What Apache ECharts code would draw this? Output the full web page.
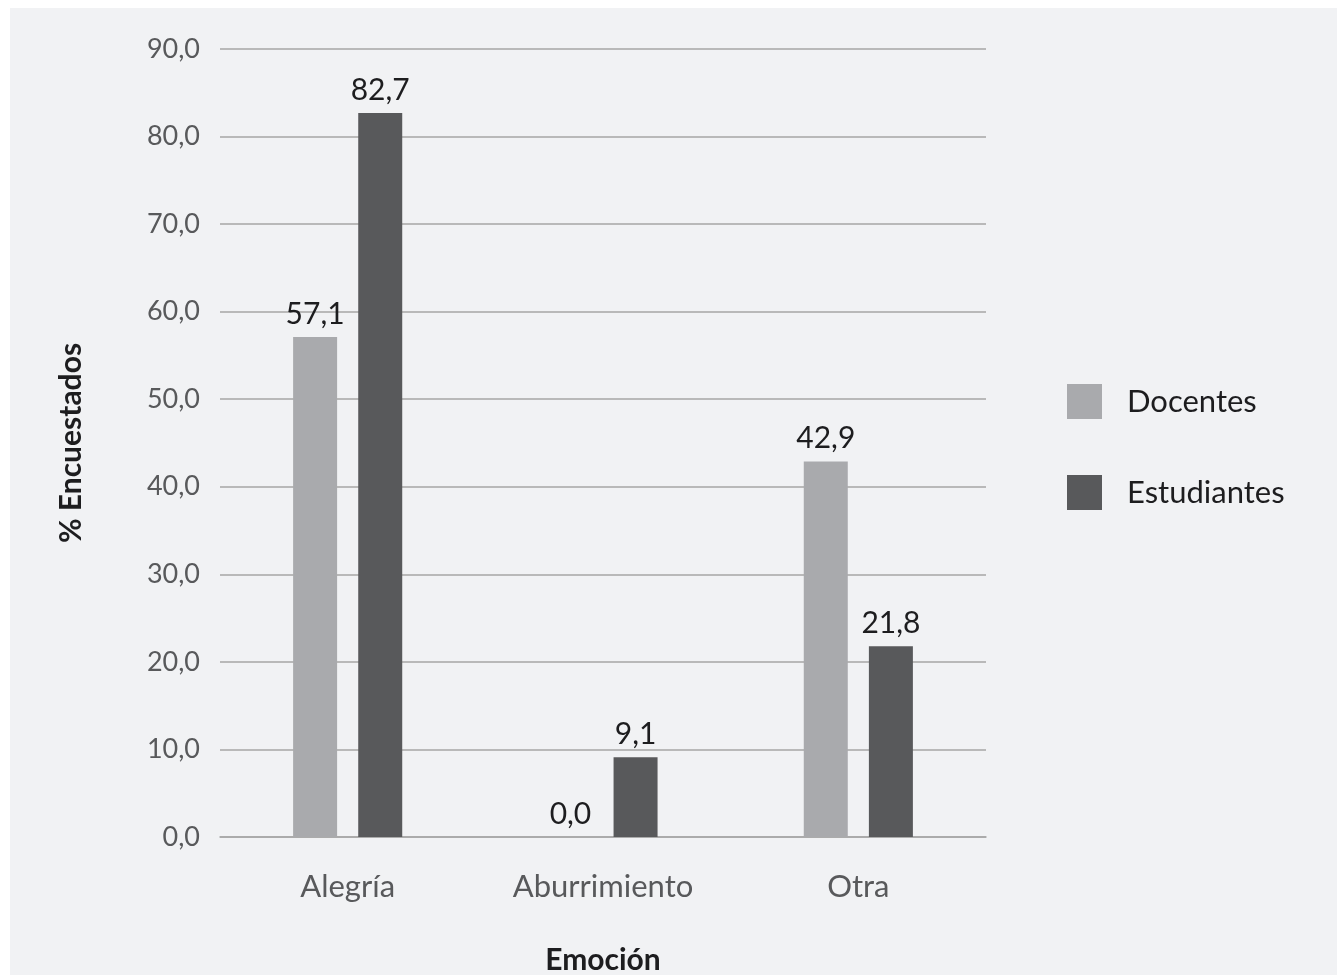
<!DOCTYPE html>
<html>
<head>
<meta charset="utf-8">
<script src="https://cdn.jsdelivr.net/npm/echarts@6/dist/echarts.min.js"></script>
<style>
  html, body { margin: 0; padding: 0; background: #ffffff; }
  #chart {
    position: absolute;
    left: 10px;
    top: 8px;
    width: 1327px;
    height: 967px;
    background: #f1f2f4;
  }
</style>
</head>
<body>
<div id="chart"></div>
<script>
const categories = ['Alegría', 'Aburrimiento', 'Otra']
const docentes = [57.1, 0.0, 42.9]
const estudiantes = [82.7, 9.1, 21.8]

const fmt = v => Number(v).toFixed(1).replace('.', ',')

const chart = echarts.init(document.getElementById('chart'))

const labelStyle = {
  show: true,
  position: 'top',
  distance: 8,
  fontFamily: 'Lato',
  fontSize: 30,
  color: '#1d1d1f',
  formatter: p => fmt(p.value)
}

chart.setOption({
  backgroundColor: '#f1f2f4',
  textStyle: { fontFamily: 'Lato' },
  grid: {
    left: 210,
    right: 351,
    top: 41,
    bottom: 138,
    outerBoundsMode: 'none',
    containLabel: false
  },
  legend: {
    orient: 'vertical',
    left: 1052,
    top: 371,
    itemWidth: 35,
    itemHeight: 35,
    itemGap: 56,
    icon: 'rect',
    textStyle: {
      fontFamily: 'Lato',
      fontSize: 31,
      color: '#1d1d1f',
      padding: [0, 0, 0, 20]
    },
    data: ['Docentes', 'Estudiantes']
  },
  xAxis: {
    type: 'category',
    data: categories,
    name: 'Emoción',
    nameLocation: 'middle',
    nameGap: 108,
    nameTextStyle: {
      fontFamily: 'Lato',
      fontSize: 30,
      fontWeight: 'bold',
      color: '#1d1d1f'
    },
    axisLine: { lineStyle: { color: '#a6a6a6', width: 1.5 } },
    axisTick: { show: false },
    axisLabel: {
      margin: 34,
      fontFamily: 'Lato',
      fontSize: 31,
      color: '#58595b'
    }
  },
  yAxis: {
    type: 'value',
    min: 0,
    max: 90,
    interval: 10,
    name: '% Encuestados',
    nameLocation: 'middle',
    nameGap: 134,
    nameTextStyle: {
      fontFamily: 'Lato',
      fontSize: 30,
      fontWeight: 'bold',
      color: '#1d1d1f'
    },
    axisLine: { show: false },
    axisTick: { show: false },
    axisLabel: {
      margin: 20,
      fontFamily: 'Lato',
      fontSize: 27,
      color: '#58595b',
      formatter: v => fmt(v)
    },
    splitLine: { lineStyle: { color: '#a6a6a6', width: 1.5 } }
  },
  series: [
    {
      name: 'Docentes',
      type: 'bar',
      data: docentes,
      barWidth: 44,
      barGap: '48%',
      itemStyle: { color: '#a9aaad' },
      label: labelStyle
    },
    {
      name: 'Estudiantes',
      type: 'bar',
      data: estudiantes,
      barWidth: 44,
      barGap: '48%',
      itemStyle: { color: '#58595b' },
      label: labelStyle
    }
  ]
})

window.addEventListener('resize', () => chart.resize())
</script>
</body>
</html>
